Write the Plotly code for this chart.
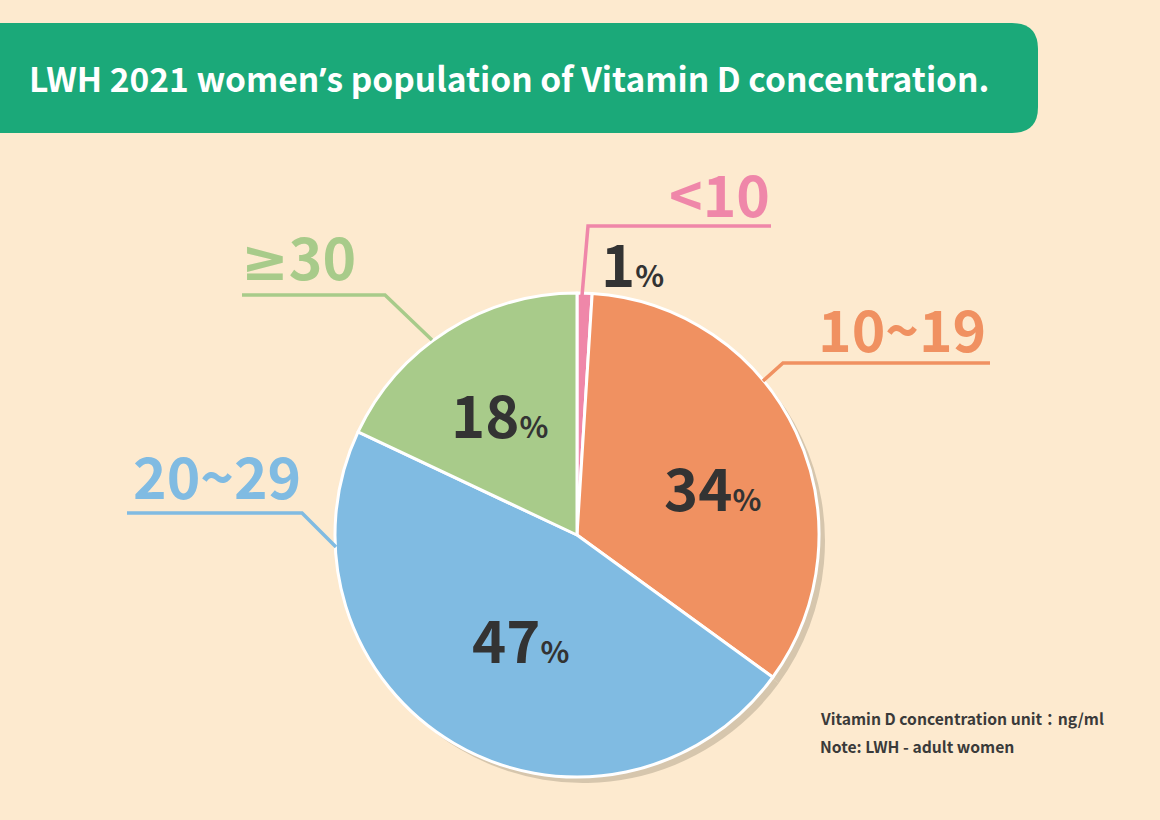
import plotly.graph_objects as go

W, H = 1160, 820

# data
categories = ['<10', '10~19', '20~29', '≥30']
shares = [1, 34, 47, 18]
colors = ['#ef87a9', '#f09161', '#80bbe2', '#a8cb8a']
title = 'LWH 2021 women\u2019s population of Vitamin D concentration.'
notes = ['Vitamin D concentration unit\uff1ang/ml', 'Note: LWH - adult women']

FONT = 'Noto Sans CJK TC'
BG = '#fdeacf'


def px(x):
    return x / W


def py(y):
    return 1 - y / H


def latin(s):
    # glyphs that the CJK font draws full width
    s = s.replace('\u2019', "<span style='font-family:Noto Sans'>\u2019</span>")
    s = s.replace('≥', "<span style='font-family:DejaVu Sans'>≥</span>")
    return s


# pie geometry in pixels
cx, cy, r = 577, 535, 242
shadow = 6

fig = go.Figure()

# shadow behind the pie
fig.add_trace(go.Pie(
    values=shares, sort=False, direction='clockwise', rotation=0,
    marker=dict(colors=['#d6c6ad'] * len(shares), line=dict(width=0)),
    textinfo='none', hoverinfo='skip', showlegend=False,
    domain=dict(x=[px(cx - r + shadow), px(cx + r + shadow)],
                y=[py(cy + r + shadow), py(cy - r + shadow)])))

fig.add_trace(go.Pie(
    labels=categories, values=shares, sort=False, direction='clockwise', rotation=0,
    marker=dict(colors=colors, line=dict(color='white', width=3)),
    textinfo='none', showlegend=False,
    domain=dict(x=[px(cx - r), px(cx + r)], y=[py(cy + r), py(cy - r)])))

shapes = []
# title banner with rounded right corners
x0, x1, y0, y1, rad = -10, 1038, 23, 133, 26
rx, ry = rad / W, rad / H
path = (f'M {px(x0)},{py(y0)} L {px(x1) - rx},{py(y0)} '
        f'Q {px(x1)},{py(y0)} {px(x1)},{py(y0) - ry} '
        f'L {px(x1)},{py(y1) + ry} '
        f'Q {px(x1)},{py(y1)} {px(x1) - rx},{py(y1)} '
        f'L {px(x0)},{py(y1)} Z')
shapes.append(dict(type='path', xref='paper', yref='paper', path=path,
                   fillcolor='#1ba979', line=dict(width=0), layer='below'))

# leader lines (pixel points)
leaders = [
    [(582, 296), (588, 226), (771, 226)],
    [(763, 381), (783, 363), (990, 363)],
    [(336, 547), (302, 513), (127, 513)],
    [(432, 340), (385, 295), (242, 295)],
]
for pts, c in zip(leaders, colors):
    p = 'M ' + ' L '.join(f'{px(a)},{py(b)}' for a, b in pts)
    shapes.append(dict(type='path', xref='paper', yref='paper', path=p,
                       line=dict(color=c, width=3.5)))

annotations = [dict(text='<b>' + latin(title) + '</b>', x=px(27), y=py(78),
                    xref='paper', yref='paper', xanchor='left', yanchor='middle',
                    showarrow=False, font=dict(family=FONT, size=33.5, color='white'))]

# category labels: (x, y, anchor)
cat_pos = [(772, 192, 'right'), (988, 327, 'right'), (303, 474, 'right'), (358, 255, 'right')]
for cat, c, (x, y, a) in zip(categories, colors, cat_pos):
    annotations.append(dict(text=latin(cat), x=px(x), y=py(y), xref='paper', yref='paper',
                            xanchor=a, yanchor='middle', showarrow=False,
                            font=dict(family=FONT, size=57, color=c, weight=600)))

# percentage labels (left edge of number, cap middle)
pct_pos = [(599, 262), (662, 486), (470, 638), (449, 413)]
for v, (x, y) in zip(shares, pct_pos):
    annotations.append(dict(
        text=f"<b>{v}</b><span style='font-size:30px'><b>%</b></span>",
        x=px(x), y=py(y), xref='paper', yref='paper', xanchor='left', yanchor='middle',
        showarrow=False, font=dict(family=FONT, size=58, color='#333333')))

for i, n in enumerate(notes):
    annotations.append(dict(text='<b>' + n + '</b>', x=px(818), y=py(718 + 28 * i),
                            xref='paper', yref='paper', xanchor='left', yanchor='middle',
                            showarrow=False, font=dict(family=FONT, size=15.7, color='#3a3a3a')))

fig.update_layout(
    width=W, height=H, margin=dict(l=0, r=0, t=0, b=0),
    paper_bgcolor=BG, plot_bgcolor=BG,
    shapes=shapes, annotations=annotations,
)
fig.write_html('out.html', config=dict(displayModeBar=False),
               post_script="document.body.style.margin='0';")
